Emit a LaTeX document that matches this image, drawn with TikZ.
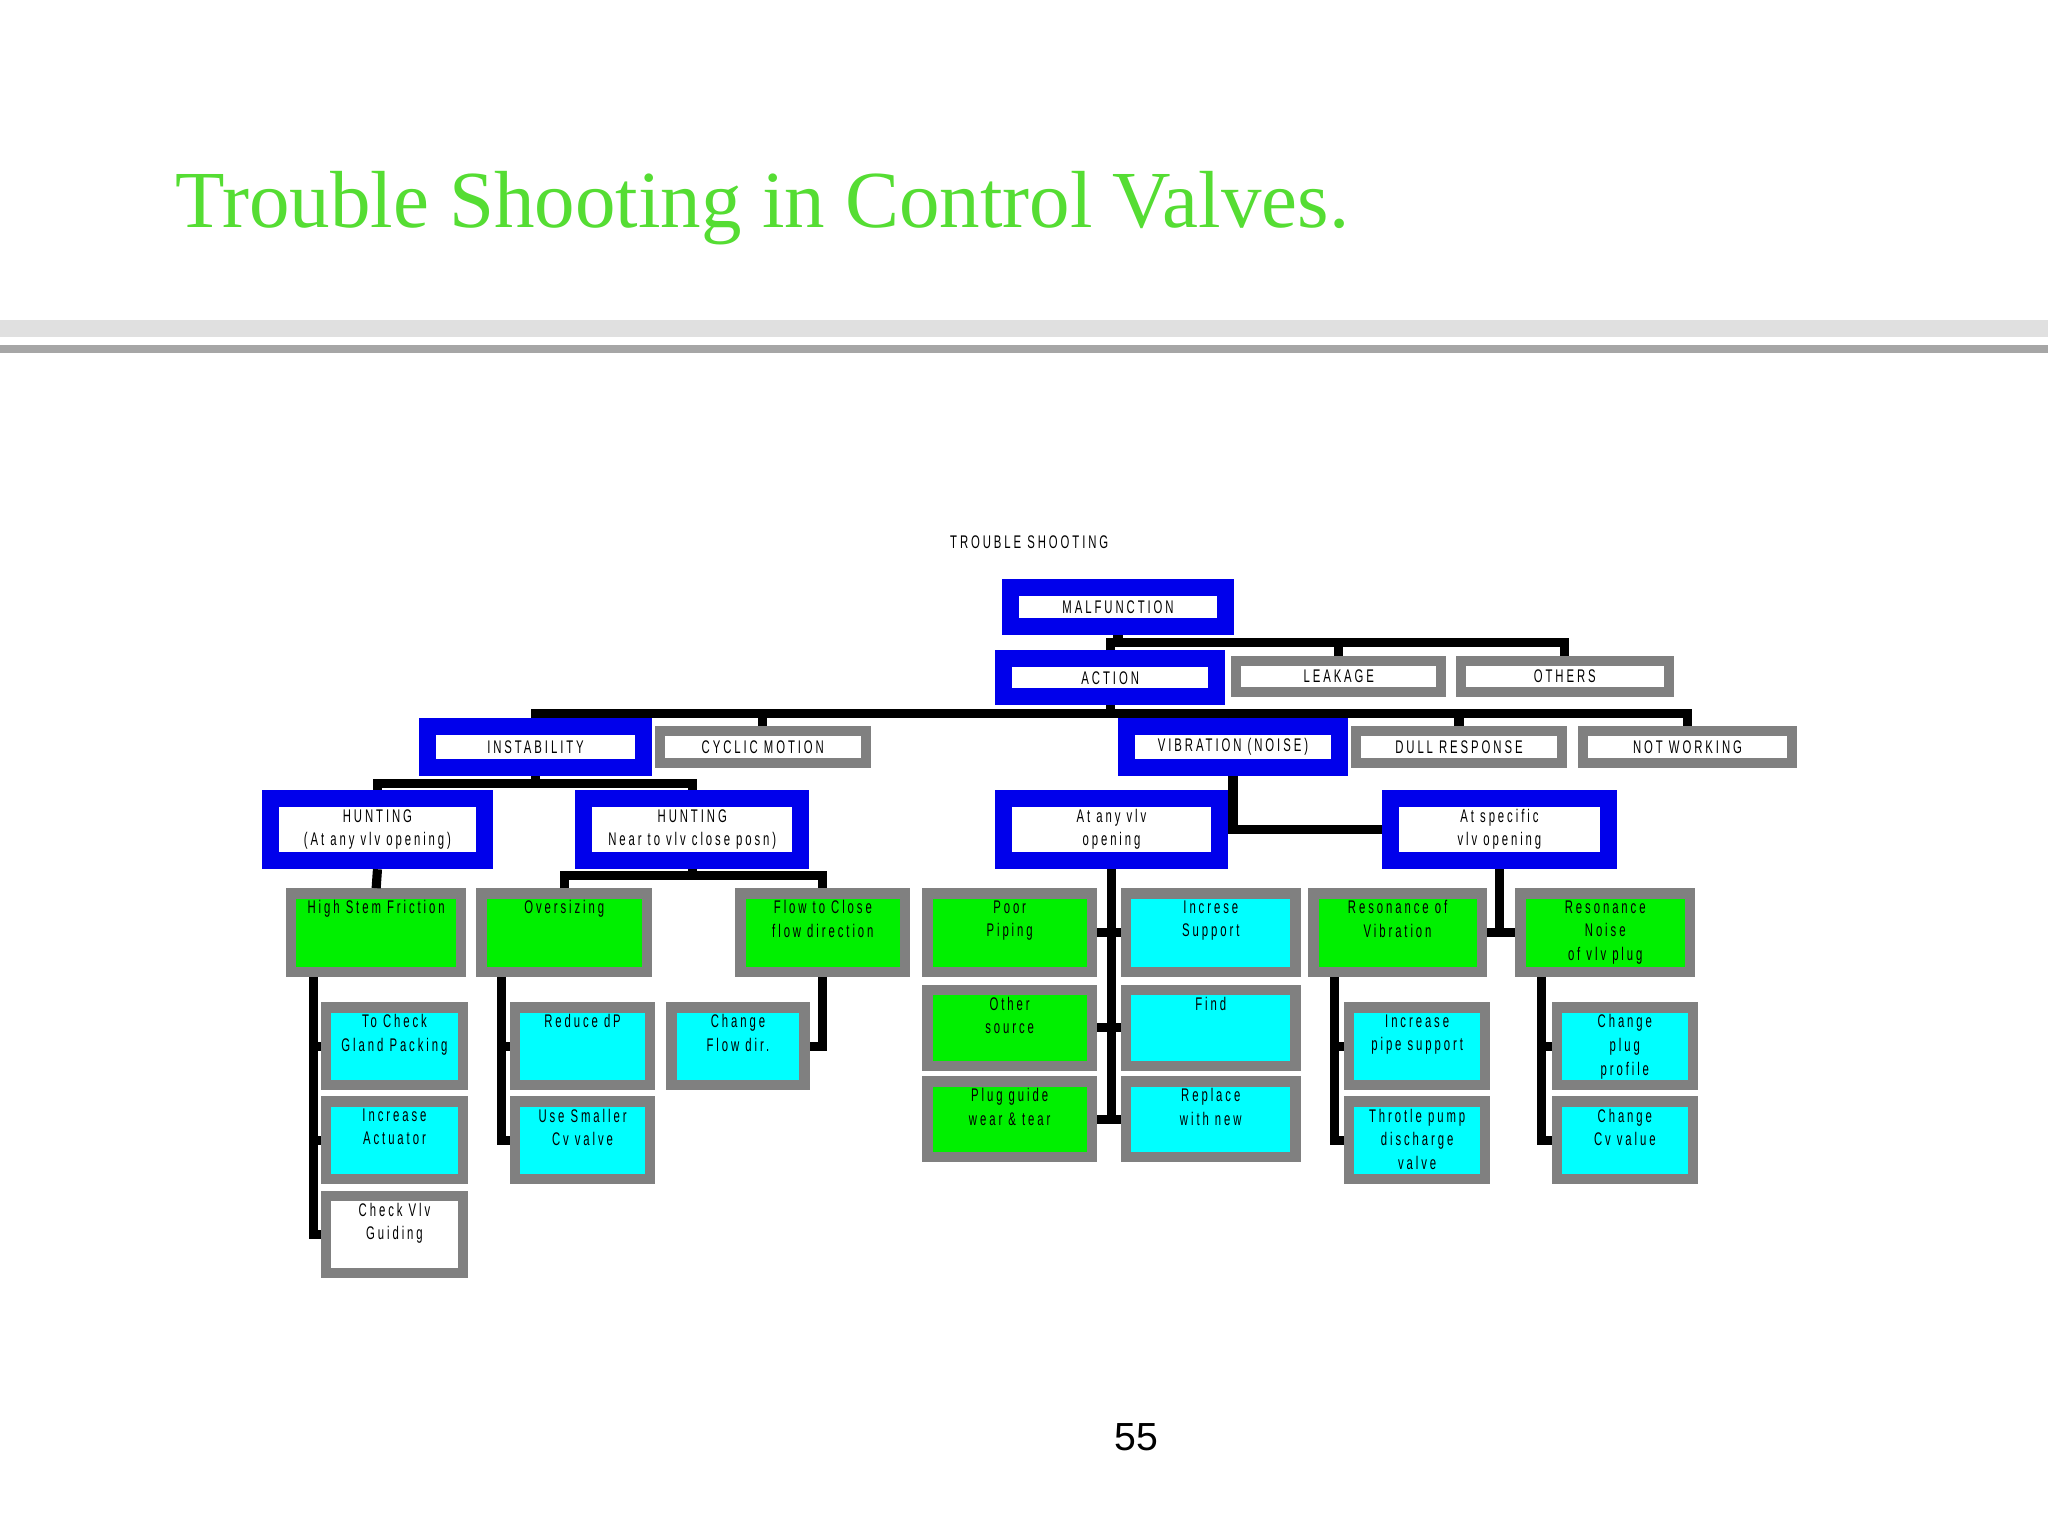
\documentclass[tikz,border=0pt]{standalone}
\usepackage{fontspec}
\setmainfont{Liberation Serif}
\newfontfamily\boxfont[FakeStretch=0.62,LetterSpace=16]{Liberation Sans}
\newfontfamily\numfont{Liberation Sans}
\definecolor{ttl}{RGB}{85,221,51}
\definecolor{bblue}{RGB}{0,0,235}
\definecolor{bgray}{RGB}{128,128,128}
\definecolor{bgreen}{RGB}{0,240,0}
\definecolor{bcyan}{RGB}{0,255,255}
\tikzset{
 lbl/.style={font=\boxfont\fontsize{7}{9}\selectfont, align=center, inner sep=0pt},
 bluebox/.style={draw=bblue, line width=6.5pt, fill=white, lbl},
 graybox/.style={draw=bgray, line width=3.8pt, fill=white, lbl},
 greenbox/.style={draw=bgray, line width=4pt, fill=bgreen},
 cyanbox/.style={draw=bgray, line width=4pt, fill=bcyan},
 whitebox/.style={draw=bgray, line width=4pt, fill=white},
 conn/.style={draw=black, line width=3.5pt},
}
\newcommand\tbox[7]{% style,name,x,y,w,h,text
 \node[#1, minimum width={#5*0.5pt}, minimum height={#6*0.5pt}, inner sep=0pt] (#2) at (#3,#4) {};
 \node[lbl, anchor=north] (#2t) at ([yshift=-4.5pt]#2.north) {#7};}
\newcommand\cbox[7]{%
 \node[#1, minimum width={#5*0.5pt}, minimum height={#6*0.5pt}, inner sep=0pt] (#2) at (#3,#4) {#7};}
\begin{document}
\begin{tikzpicture}[x=0.5pt,y=-0.5pt]
\useasboundingbox (0,0) rectangle (1568,1176);
\fill[white] (0,0) rectangle (1568,1176);
\node[anchor=base west, text=ttl, font=\fontsize{31}{36}\selectfont, inner sep=0pt] (title) at (134,174) {Trouble Shooting in Control Valves.};
\fill[black!12] (0,245) rectangle (1568,258);
\fill[black!35] (0,264) rectangle (1568,270);
\node[font=\numfont\fontsize{15}{18}\selectfont] (pg) at (870,1100) {55};
\node[lbl] (head) at (788,415) {TROUBLE SHOOTING};
% level nodes
\cbox{bluebox}{malf}{856}{465}{164}{30}{MALFUNCTION}
\cbox{bluebox}{act}{850}{519}{163}{29}{ACTION}
\cbox{graybox}{leak}{1025}{518}{157}{24}{LEAKAGE}
\cbox{graybox}{oth}{1198}{518}{159}{24}{OTHERS}
\cbox{bluebox}{inst}{410}{572}{166}{31}{INSTABILITY}
\cbox{graybox}{cyc}{584}{572}{158}{25}{CYCLIC MOTION}
\cbox{bluebox}{vib}{944}{572}{163}{31}{VIBRATION (NOISE)}
\cbox{graybox}{dull}{1117}{572}{158}{25}{DULL RESPONSE}
\cbox{graybox}{notw}{1292}{572}{160}{25}{NOT WORKING}
\cbox{bluebox}{h1}{289}{635}{164}{48}{HUNTING\\(At any vlv opening)}
\cbox{bluebox}{h2}{530}{635}{166}{48}{HUNTING\\Near to vlv close posn)}
\cbox{bluebox}{anyv}{851}{635}{165}{48}{At any vlv\\opening}
\cbox{bluebox}{spec}{1148}{635}{167}{48}{At specific\\vlv opening}
% green row
\tbox{greenbox}{hsf}{288}{714}{130}{60}{High Stem Friction}
\tbox{greenbox}{over}{432}{714}{127}{60}{Oversizing}
\tbox{greenbox}{flow}{630}{714}{126}{60}{Flow to Close\\flow direction}
\tbox{greenbox}{poor}{773}{714}{126}{60}{Poor\\Piping}
\tbox{cyanbox}{incs}{927}{714}{130}{60}{Increse\\Support}
\tbox{greenbox}{rv}{1070}{714}{129}{60}{Resonance of\\Vibration}
\tbox{greenbox}{rn}{1229}{714}{130}{60}{Resonance\\Noise\\of vlv plug}
\tbox{greenbox}{osrc}{773}{787}{126}{58}{Other\\source}
\tbox{cyanbox}{find}{927}{787}{130}{58}{Find}
\tbox{greenbox}{plug}{773}{857}{126}{58}{Plug guide\\wear \& tear}
\tbox{cyanbox}{repl}{927}{857}{130}{58}{Replace\\with new}
\tbox{cyanbox}{tck}{302}{801}{105}{59}{To Check\\Gland Packing}
\tbox{cyanbox}{inca}{302}{873}{105}{59}{Increase\\Actuator}
\tbox{whitebox}{cvg}{302}{945}{105}{59}{Check Vlv\\Guiding}
\tbox{cyanbox}{rdp}{446}{801}{103}{59}{Reduce dP}
\tbox{cyanbox}{usm}{446}{873}{103}{59}{Use Smaller\\Cv valve}
\tbox{cyanbox}{chf}{565}{801}{102}{59}{Change\\Flow dir.}
\tbox{cyanbox}{ips}{1085}{801}{104}{59}{Increase\\pipe support}
\tbox{cyanbox}{thr}{1085}{873}{104}{59}{Throtle pump\\discharge\\valve}
\tbox{cyanbox}{cpp}{1244}{801}{104}{59}{Change\\plug\\profile}
\tbox{cyanbox}{ccv}{1244}{873}{104}{59}{Change\\Cv value}
% helper coordinates
\coordinate (b1) at (0,492);
\coordinate (b2) at (0,546);
\coordinate (b3) at (0,600);
\coordinate (b4) at (0,670);
\coordinate (v1) at (240,0);
\coordinate (v2) at (384,0);
\coordinate (v3) at (1022,0);
\coordinate (v4) at (1180,0);
% connectors
\begin{scope}[on background layer/.try]
\draw[conn] (act.north) -- (act.north|-b1) -| (oth.north);
\draw[conn] (malf.south) -- (malf.south|-b1);
\draw[conn] (leak.north) -- (leak.north|-b1);
\draw[conn] (inst.north) -- (inst.north|-b2) -| (notw.north);
\draw[conn] (act.south) -- (act.south|-b2);
\draw[conn] (cyc.north) -- (cyc.north|-b2);
\draw[conn] (vib.north) -- (vib.north|-b2);
\draw[conn] (dull.north) -- (dull.north|-b2);
\draw[conn] (h1.north) -- (h1.north|-b3) -| (h2.north);
\draw[conn] (inst.south) -- (inst.south|-b3);
\draw[conn] (vib.south) -- (vib.south|-anyv.east);
\draw[conn] (anyv.east) -- (spec.west);
\draw[conn] (h1.south) -- (hsf.north);
\draw[conn] (over.north) -- (over.north|-b4) -| (flow.north);
\draw[conn] (h2.south) -- (h2.south|-b4);
\draw[conn] (v1|-hsf.south) -- (v1|-cvg.west) -- (cvg.west);
\draw[conn] (v1|-tck.west) -- (tck.west);
\draw[conn] (v1|-inca.west) -- (inca.west);
\draw[conn] (v2|-over.south) -- (v2|-usm.west) -- (usm.west);
\draw[conn] (v2|-rdp.west) -- (rdp.west);
\draw[conn] (flow.south) -- (flow.south|-chf.east) -- (chf.east);
\draw[conn] (anyv.south) -- (anyv.south|-plug.east);
\draw[conn] (poor.east) -- (incs.west);
\draw[conn] (osrc.east) -- (find.west);
\draw[conn] (plug.east) -- (repl.west);
\draw[conn] (spec.south) -- (spec.south|-rv.east);
\draw[conn] (rv.east) -- (rn.west);
\draw[conn] (v3|-rv.south) -- (v3|-thr.west) -- (thr.west);
\draw[conn] (v3|-ips.west) -- (ips.west);
\draw[conn] (v4|-rn.south) -- (v4|-ccv.west) -- (ccv.west);
\draw[conn] (v4|-cpp.west) -- (cpp.west);
\end{scope}
\end{tikzpicture}
\end{document}
